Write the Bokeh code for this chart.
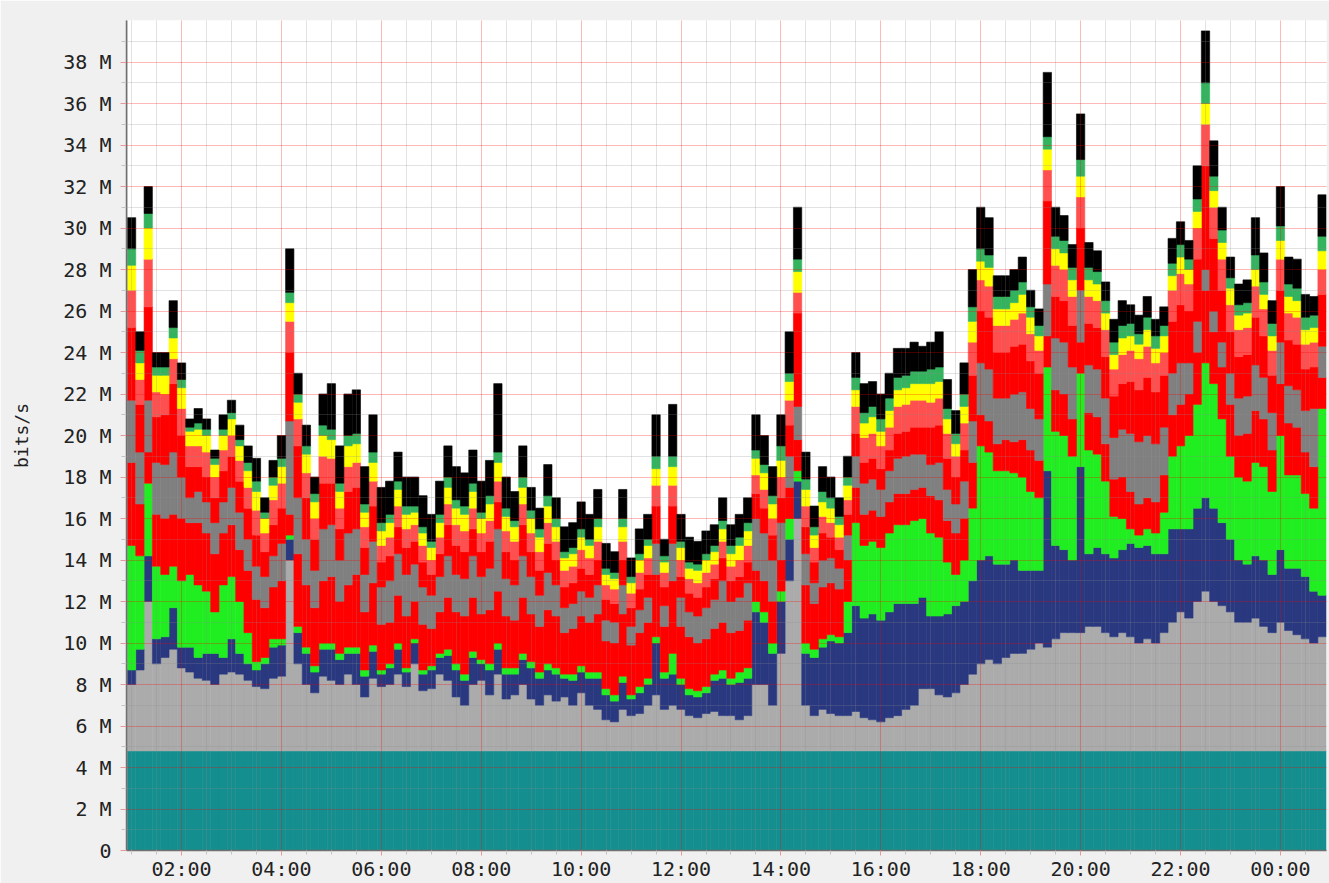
from bokeh.plotting import figure
from bokeh.models import Range1d, FixedTicker, CustomJSTickFormatter, ColumnDataSource, Arrow, NormalHead, Label
from bokeh.embed import file_html
from bokeh.resources import INLINE

# time axis: 10-minute samples starting 00:55 (hours since midnight)
START_HOUR = 55 / 60
STEP_HOURS = 10 / 60

# Series values in Mbit/s, stacked bottom -> top
teal = [4.8, 4.8, 4.8, 4.8, 4.8, 4.8, 4.8, 4.8, 4.8, 4.8, 4.8, 4.8,
        4.8, 4.8, 4.8, 4.8, 4.8, 4.8, 4.8, 4.8, 4.8, 4.8, 4.8, 4.8,
        4.8, 4.8, 4.8, 4.8, 4.8, 4.8, 4.8, 4.8, 4.8, 4.8, 4.8, 4.8,
        4.8, 4.8, 4.8, 4.8, 4.8, 4.8, 4.8, 4.8, 4.8, 4.8, 4.8, 4.8,
        4.8, 4.8, 4.8, 4.8, 4.8, 4.8, 4.8, 4.8, 4.8, 4.8, 4.8, 4.8,
        4.8, 4.8, 4.8, 4.8, 4.8, 4.8, 4.8, 4.8, 4.8, 4.8, 4.8, 4.8,
        4.8, 4.8, 4.8, 4.8, 4.8, 4.8, 4.8, 4.8, 4.8, 4.8, 4.8, 4.8,
        4.8, 4.8, 4.8, 4.8, 4.8, 4.8, 4.8, 4.8, 4.8, 4.8, 4.8, 4.8,
        4.8, 4.8, 4.8, 4.8, 4.8, 4.8, 4.8, 4.8, 4.8, 4.8, 4.8, 4.8,
        4.8, 4.8, 4.8, 4.8, 4.8, 4.8, 4.8, 4.8, 4.8, 4.8, 4.8, 4.8,
        4.8, 4.8, 4.8, 4.8, 4.8, 4.8, 4.8, 4.8, 4.8, 4.8, 4.8, 4.8,
        4.8, 4.8, 4.8, 4.8, 4.8, 4.8, 4.8, 4.8, 4.8, 4.8, 4.8, 4.8]

lgray = [3.2, 3.9, 7.2, 4.2, 4.5, 4.9, 4.0, 3.8, 3.5, 3.4, 3.2, 3.7,
         3.8, 3.7, 3.4, 3.1, 3.0, 3.5, 3.6, 9.2, 4.2, 3.2, 2.8, 3.6,
         3.4, 3.2, 3.7, 3.2, 2.6, 3.5, 3.1, 3.2, 3.7, 3.1, 4.2, 2.9,
         3.0, 3.7, 3.4, 2.6, 2.2, 3.2, 3.4, 2.7, 3.7, 2.5, 2.7, 3.2,
         2.5, 2.2, 2.7, 2.4, 2.6, 2.2, 2.8, 2.2, 2.0, 1.5, 1.4, 2.0,
         1.7, 1.8, 2.2, 2.7, 2.0, 2.2, 2.0, 1.7, 1.6, 1.8, 1.9, 1.7,
         1.7, 1.5, 1.7, 3.2, 3.2, 2.2, 4.7, 8.2, 11.2, 2.2, 1.7, 2.0,
         1.8, 1.7, 1.7, 1.9, 1.6, 1.5, 1.4, 1.6, 1.7, 2.0, 2.2, 3.0,
         3.0, 2.7, 2.6, 2.8, 3.2, 3.7, 4.2, 4.4, 4.2, 4.5, 4.7, 4.7,
         4.9, 5.2, 5.0, 5.4, 5.7, 5.7, 5.7, 6.0, 6.0, 5.7, 5.5, 5.7,
         5.5, 5.2, 5.4, 5.2, 5.7, 6.2, 6.7, 6.4, 7.2, 7.7, 7.2, 7.0,
         6.7, 6.2, 6.2, 6.4, 6.0, 5.7, 6.2, 5.8, 5.6, 5.4, 5.2, 5.5]

navy = [0.7, 1.0, 2.2, 1.2, 1.0, 2.0, 1.0, 1.2, 1.0, 1.3, 1.5, 0.8,
        1.6, 1.0, 0.8, 0.8, 1.2, 1.5, 1.5, 1.0, 1.5, 1.5, 1.0, 1.3,
        1.5, 1.2, 1.0, 1.5, 1.0, 1.3, 0.6, 0.8, 1.2, 0.7, 1.0, 0.8,
        0.9, 0.8, 1.2, 1.3, 1.2, 1.3, 0.8, 1.2, 1.2, 1.2, 1.0, 1.2,
        1.5, 1.3, 1.2, 1.3, 0.9, 1.2, 1.0, 1.3, 1.5, 1.2, 1.0, 1.3,
        0.8, 1.0, 1.0, 2.5, 1.5, 1.5, 1.2, 1.0, 1.0, 1.0, 1.5, 1.8,
        1.5, 1.8, 1.8, 3.5, 3.0, 2.5, 2.5, 2.0, 1.8, 2.5, 2.8, 3.0,
        3.5, 3.5, 4.0, 5.1, 4.8, 5.1, 4.9, 5.1, 5.4, 5.1, 4.9, 4.4,
        3.5, 3.8, 4.0, 4.2, 4.0, 4.5, 5.0, 5.0, 4.8, 4.5, 4.5, 4.0,
        3.8, 3.5, 8.5, 4.5, 4.0, 3.5, 8.0, 3.5, 3.8, 3.8, 3.8, 4.0,
        4.5, 4.6, 4.5, 4.3, 3.8, 4.5, 4.0, 4.3, 4.5, 4.5, 4.5, 4.0,
        3.5, 3.0, 2.8, 3.0, 3.2, 2.8, 3.5, 3.0, 3.2, 3.0, 2.5, 2.0]

green = [6.0, 4.5, 3.5, 3.5, 3.0, 2.0, 3.2, 3.5, 3.5, 3.0, 2.0, 3.5,
         3.0, 2.5, 1.5, 0.4, 0.3, 0.4, 0.3, 0.2, 0.3, 0.3, 0.3, 0.3,
         0.3, 0.3, 0.3, 0.3, 0.3, 0.3, 0.2, 0.2, 0.3, 0.2, 0.2, 0.2,
         0.2, 0.2, 0.3, 0.3, 0.3, 0.3, 0.2, 0.3, 0.3, 0.3, 0.3, 0.3,
         0.3, 0.3, 0.3, 0.3, 0.2, 0.3, 0.3, 0.3, 0.3, 0.3, 0.3, 0.3,
         0.2, 0.3, 0.3, 0.3, 0.3, 1.0, 0.3, 0.3, 0.3, 0.3, 0.3, 0.4,
         0.3, 0.5, 0.5, 0.5, 0.5, 0.5, 0.5, 1.0, 0.5, 0.5, 0.4, 0.4,
         0.3, 0.3, 1.5, 4.0, 3.5, 3.5, 3.5, 3.8, 3.8, 3.8, 4.0, 3.8,
         4.0, 3.8, 2.5, 1.5, 2.0, 3.5, 5.5, 5.0, 4.5, 4.5, 4.2, 4.5,
         3.8, 3.5, 5.0, 5.5, 5.5, 5.0, 4.5, 5.0, 4.5, 3.5, 2.0, 1.5,
         0.7, 0.6, 0.8, 1.0, 2.0, 3.5, 4.0, 4.5, 5.0, 6.5, 6.0, 5.0,
         4.0, 4.0, 4.0, 4.5, 4.5, 4.0, 5.5, 4.5, 4.5, 4.0, 4.0, 9.0]

red_low = [4.0, 2.5, 1.5, 2.5, 2.7, 2.5, 3.0, 2.5, 3.0, 2.8, 2.8, 2.5,
           2.5, 2.5, 3.0, 3.0, 2.4, 2.5, 2.8, 1.0, 3.5, 3.0, 2.8, 3.0,
           3.2, 2.5, 3.0, 3.5, 2.8, 3.0, 2.2, 2.0, 2.3, 2.5, 1.8, 2.2,
           1.8, 2.0, 2.5, 2.5, 2.8, 2.6, 2.2, 2.6, 2.5, 2.5, 2.3, 2.7,
           2.3, 2.2, 2.6, 2.5, 2.0, 2.2, 2.4, 2.4, 2.8, 2.3, 2.5, 3.0,
           2.4, 2.6, 2.7, 3.0, 2.2, 3.5, 2.5, 2.5, 2.3, 2.3, 2.2, 2.3,
           2.2, 2.0, 2.3, 1.5, 1.5, 2.0, 1.5, 1.5, 1.5, 2.8, 2.2, 2.5,
           2.5, 2.3, 2.0, 1.7, 1.5, 1.5, 1.5, 1.5, 1.5, 1.5, 1.5, 1.5,
           1.8, 1.8, 2.0, 2.0, 2.0, 2.2, 1.5, 1.5, 1.3, 1.5, 1.5, 1.8,
           2.0, 1.8, 1.5, 2.0, 2.0, 1.8, 1.5, 1.8, 1.8, 1.8, 1.8, 2.0,
           1.8, 1.5, 1.5, 1.5, 1.8, 2.0, 2.0, 2.0, 2.5, 3.5, 2.5, 2.5,
           2.5, 2.0, 2.3, 2.5, 2.3, 2.0, 2.5, 2.5, 2.3, 2.0, 2.0, 1.5]

gray = [3.0, 2.5, 2.5, 2.5, 2.6, 3.0, 2.0, 1.2, 1.5, 1.5, 1.5, 1.5,
        1.8, 1.8, 1.5, 1.6, 1.5, 1.5, 1.8, 4.5, 2.7, 2.2, 1.8, 2.5,
        2.5, 2.0, 2.5, 2.2, 1.8, 2.0, 1.8, 2.0, 2.0, 2.0, 1.8, 1.8,
        1.6, 1.7, 2.0, 1.8, 1.8, 2.0, 1.8, 2.0, 3.0, 1.8, 1.7, 2.0,
        1.8, 1.5, 1.8, 1.5, 1.2, 1.2, 1.2, 1.2, 1.4, 1.0, 1.0, 1.4,
        0.9, 1.1, 1.2, 1.5, 1.0, 1.8, 1.4, 1.2, 1.3, 1.5, 1.4, 2.0,
        1.5, 1.6, 1.8, 2.5, 2.3, 2.0, 1.8, 1.5, 1.6, 1.5, 1.0, 1.3,
        1.2, 1.0, 1.2, 1.5, 1.5, 1.5, 1.3, 1.5, 1.7, 1.8, 1.7, 1.6,
        1.5, 1.8, 1.5, 1.4, 1.8, 2.0, 2.5, 2.5, 2.2, 2.0, 2.3, 2.3,
        2.0, 2.0, 2.5, 2.5, 2.5, 2.5, 2.5, 2.3, 2.3, 2.2, 2.0, 2.3,
        2.8, 3.0, 3.0, 2.8, 2.3, 2.0, 2.0, 1.5, 1.5, 1.0, 1.0, 1.2,
        1.5, 1.8, 1.8, 2.2, 2.0, 1.8, 2.0, 1.8, 1.8, 2.0, 2.8, 1.5]

red_high = [3.5, 2.3, 4.5, 2.2, 2.4, 3.3, 2.0, 1.5, 1.2, 1.2, 1.2, 1.5,
            1.5, 1.5, 1.5, 1.5, 1.2, 1.5, 1.7, 3.3, 2.5, 2.0, 1.5, 2.2,
            2.0, 1.5, 2.0, 2.0, 1.3, 1.7, 1.2, 1.2, 1.3, 1.3, 1.1, 1.2,
            1.0, 1.1, 1.5, 1.4, 1.3, 1.3, 1.2, 1.3, 1.3, 1.3, 1.2, 1.5,
            1.2, 1.2, 1.4, 1.2, 1.0, 1.0, 1.1, 1.1, 1.2, 1.0, 0.9, 1.2,
            0.9, 1.0, 1.1, 1.8, 0.9, 1.8, 1.0, 0.9, 0.9, 1.0, 1.0, 1.1,
            1.0, 1.0, 1.0, 1.2, 1.2, 1.2, 1.2, 1.5, 4.5, 1.3, 1.0, 1.3,
            1.0, 0.9, 1.0, 1.1, 1.0, 1.0, 1.0, 1.0, 1.2, 1.2, 1.3, 1.3,
            1.8, 1.8, 1.5, 1.3, 1.5, 2.2, 2.5, 2.5, 2.2, 2.2, 2.3, 2.3,
            2.3, 2.2, 4.0, 2.0, 2.0, 2.0, 3.0, 2.0, 2.0, 2.0, 2.0, 2.2,
            2.5, 2.5, 2.8, 2.5, 2.5, 2.5, 2.8, 2.5, 3.0, 5.0, 3.5, 2.5,
            2.0, 2.0, 2.0, 2.3, 2.0, 1.8, 2.5, 2.2, 2.2, 2.0, 2.0, 2.5]

light_red = [1.8, 1.2, 2.3, 1.2, 1.0, 1.2, 1.3, 1.0, 1.0, 1.2, 1.0, 1.0,
             1.0, 1.0, 1.0, 1.2, 0.9, 1.2, 1.2, 1.5, 1.3, 1.2, 1.0, 1.3,
             1.2, 1.0, 1.2, 1.2, 1.0, 1.2, 0.8, 0.9, 1.0, 0.9, 0.8, 0.8,
             0.7, 0.8, 1.0, 1.0, 1.0, 1.0, 0.9, 1.0, 1.0, 1.0, 0.9, 1.0,
             0.9, 0.9, 1.0, 0.9, 0.8, 0.8, 0.9, 0.8, 0.9, 0.7, 0.7, 0.9,
             0.7, 0.8, 0.8, 1.0, 0.7, 1.0, 0.8, 0.7, 0.7, 0.7, 0.7, 0.8,
             0.7, 0.8, 0.8, 0.9, 0.9, 0.8, 1.0, 1.2, 1.0, 1.0, 0.7, 0.8,
             0.7, 0.6, 0.7, 1.3, 1.2, 1.2, 1.1, 1.1, 1.3, 1.3, 1.3, 1.3,
             1.2, 1.3, 1.2, 1.0, 1.3, 1.6, 1.5, 1.5, 1.3, 1.3, 1.3, 1.5,
             1.3, 1.1, 1.5, 1.5, 1.5, 1.4, 1.5, 1.3, 1.3, 1.3, 1.3, 1.4,
             1.5, 1.5, 1.5, 1.4, 1.1, 1.5, 1.5, 1.3, 1.5, 2.0, 1.5, 1.5,
             1.3, 1.3, 1.3, 1.5, 1.3, 1.2, 1.5, 1.3, 1.3, 1.2, 1.2, 1.2]

yellow = [1.2, 0.8, 1.5, 0.8, 0.9, 1.0, 1.0, 0.7, 0.8, 0.8, 0.6, 0.7,
          0.8, 0.7, 0.8, 0.9, 0.7, 0.7, 0.8, 0.9, 0.8, 0.9, 0.8, 1.0,
          0.9, 0.8, 1.0, 0.9, 0.7, 0.9, 0.7, 0.7, 0.8, 0.7, 0.6, 0.6,
          0.6, 0.7, 0.8, 0.8, 0.8, 0.8, 0.7, 0.8, 0.9, 0.7, 0.7, 0.8,
          0.7, 0.7, 0.8, 0.7, 0.6, 0.6, 0.6, 0.6, 0.7, 0.5, 0.5, 0.7,
          0.5, 0.6, 0.6, 0.8, 0.5, 0.9, 0.6, 0.5, 0.6, 0.6, 0.6, 0.6,
          0.6, 0.7, 0.7, 0.8, 0.8, 0.7, 0.8, 0.9, 1.0, 0.8, 0.6, 0.7,
          0.7, 0.6, 0.7, 0.8, 0.7, 0.8, 0.7, 0.8, 0.8, 0.8, 0.8, 0.8,
          0.9, 0.8, 0.7, 0.6, 0.8, 1.0, 0.9, 0.9, 0.8, 0.8, 0.8, 0.9,
          0.8, 0.7, 1.0, 0.8, 0.8, 0.8, 1.0, 0.8, 0.8, 0.8, 0.7, 0.8,
          0.7, 0.7, 0.8, 0.7, 0.8, 0.7, 0.8, 0.7, 0.8, 1.0, 0.8, 0.8,
          0.8, 0.7, 0.7, 0.8, 0.7, 0.7, 0.9, 0.8, 0.8, 0.7, 0.7, 0.9]

sea_green = [0.8, 0.6, 0.7, 0.4, 0.4, 0.5, 0.4, 0.2, 0.3, 0.3, 0.3, 0.3,
             0.3, 0.3, 0.4, 0.5, 0.3, 0.4, 0.4, 0.5, 0.4, 0.4, 0.4, 0.5,
             0.5, 0.4, 0.5, 0.5, 0.4, 0.5, 0.4, 0.4, 0.4, 0.4, 0.3, 0.3,
             0.3, 0.4, 0.5, 0.4, 0.4, 0.4, 0.3, 0.4, 0.5, 0.4, 0.3, 0.5,
             0.4, 0.4, 0.5, 0.4, 0.3, 0.3, 0.4, 0.3, 0.4, 0.3, 0.3, 0.4,
             0.3, 0.3, 0.3, 0.6, 0.3, 0.5, 0.3, 0.3, 0.3, 0.3, 0.3, 0.4,
             0.4, 0.4, 0.4, 0.4, 0.4, 0.4, 0.7, 0.4, 0.6, 0.5, 0.4, 0.5,
             0.5, 0.4, 0.4, 0.6, 0.5, 0.5, 0.6, 0.6, 0.6, 0.6, 0.6, 0.6,
             0.7, 0.7, 0.5, 0.5, 0.6, 0.7, 0.6, 0.6, 0.6, 0.6, 0.6, 0.6,
             0.5, 0.5, 0.6, 0.6, 0.6, 0.6, 0.8, 0.6, 0.6, 0.6, 0.6, 0.6,
             0.6, 0.5, 0.6, 0.6, 0.5, 0.6, 0.6, 0.5, 0.6, 1.0, 0.7, 0.6,
             0.5, 0.5, 0.5, 0.7, 0.6, 0.6, 0.7, 0.6, 0.6, 0.6, 0.6, 0.7]

black = [1.5, 0.9, 1.3, 0.7, 0.7, 1.3, 0.8, 0.4, 0.7, 0.5, 0.4, 0.7,
         0.6, 0.7, 0.8, 1.1, 0.7, 0.8, 1.1, 2.1, 1.0, 1.0, 0.8, 1.5,
         2.2, 1.8, 2.0, 2.1, 1.8, 1.8, 1.7, 1.6, 1.4, 1.4, 1.4, 1.5,
         1.3, 1.6, 1.5, 1.6, 1.6, 1.6, 1.5, 1.7, 3.3, 1.5, 1.4, 1.5,
         1.1, 1.0, 1.5, 1.0, 1.2, 1.2, 1.3, 1.2, 1.4, 1.2, 1.0, 1.4,
         0.9, 1.2, 1.2, 2.0, 0.8, 2.5, 1.3, 1.2, 1.1, 1.1, 1.0, 1.1,
         1.0, 1.1, 1.2, 1.7, 1.4, 1.4, 1.5, 2.0, 2.5, 1.3, 1.0, 1.2,
         1.0, 0.9, 1.0, 1.2, 1.4, 1.2, 1.2, 1.2, 1.4, 1.3, 1.4, 1.2,
         1.3, 1.7, 1.4, 1.1, 1.5, 1.8, 2.0, 1.8, 1.0, 1.0, 1.0, 1.2,
         0.8, 0.8, 3.1, 1.4, 1.2, 1.1, 2.2, 1.2, 1.0, 0.9, 1.1, 1.2,
         0.9, 0.9, 1.0, 0.8, 0.9, 1.2, 1.1, 0.9, 1.6, 2.5, 1.7, 1.1,
         1.0, 1.0, 1.1, 1.8, 1.4, 1.1, 1.9, 1.3, 1.4, 1.1, 0.9, 2.0]

y_ticks = [0, 2, 4, 6, 8, 10, 12, 14, 16, 18, 20, 22, 24, 26, 28, 30, 32, 34, 36, 38]
x_ticks = [2, 4, 6, 8, 10, 12, 14, 16, 18, 20, 22, 24]

names = ["teal", "lgray", "navy", "green", "red_low", "gray", "red_high",
         "light_red", "yellow", "sea_green", "black"]
series = [teal, lgray, navy, green, red_low, gray, red_high,
          light_red, yellow, sea_green, black]
colors = ["#148E8E", "#ABABAB", "#29387F", "#20EE20", "#FF0000", "#808080",
          "#FF0000", "#FF4F4F", "#FFFF00", "#33B35E", "#000000"]

n = len(teal)
t = [START_HOUR + STEP_HOURS * (i + 0.5) for i in range(n)]
data = {"t": t}
for nm, s in zip(names, series):
    data[nm] = s
src = ColumnDataSource(data)

X0 = 53.9 / 60
PX_PER_HOUR = 49.95
FRAME_W = 1200

p = figure(width=1329, height=883, output_backend="svg", toolbar_location=None,
           x_range=Range1d(X0, X0 + FRAME_W / PX_PER_HOUR), y_range=Range1d(0, 40),
           min_border_left=126, min_border_right=3, min_border_top=20,
           min_border_bottom=31)
p.background_fill_color = "white"
p.border_fill_color = "#F0F0F0"
p.outline_line_color = None

p.vbar_stack(names, x="t", width=STEP_HOURS, color=colors, source=src, line_width=0.6)

# axes
font = "DejaVu Sans Mono"
p.yaxis.ticker = FixedTicker(ticks=y_ticks, minor_ticks=[v + 1 for v in y_ticks])
p.yaxis.formatter = CustomJSTickFormatter(code="return tick == 0 ? '0' : tick + ' M';")
minor_x = [h / 2 for h in range(2, 50) if h % 4 != 0]
p.xaxis.ticker = FixedTicker(ticks=x_ticks, minor_ticks=minor_x)
p.xaxis.formatter = CustomJSTickFormatter(
    code="const h = Math.round(tick) % 24; return (h < 10 ? '0' : '') + h + ':00';")

for ax in (p.xaxis, p.yaxis):
    ax.axis_line_color = "#707070"
    ax.axis_line_width = 1.5
    ax.major_tick_line_color = "#E89A9A"
    ax.minor_tick_line_color = "#C4C4C4"
    ax.major_tick_in = 0
    ax.minor_tick_in = 0
    ax.major_tick_out = 6
    ax.minor_tick_out = 5
    ax.major_label_text_font = font
    ax.major_label_text_font_size = "20px"
    ax.major_label_text_color = "#222222"

p.xaxis.major_tick_out = 5
p.xaxis.minor_tick_out = 4
p.yaxis.major_label_standoff = 9
p.xaxis.major_label_standoff = 1
p.yaxis.axis_label = "bits/s"
p.yaxis.axis_label_text_font = font
p.yaxis.axis_label_text_font_size = "18px"
p.yaxis.axis_label_text_font_style = "normal"
p.yaxis.axis_label_text_color = "#222222"
p.yaxis.axis_label_standoff = 28

# grid drawn over the areas, like rrdtool
for g in (p.xgrid, p.ygrid):
    g.grid_line_color = "#FF0000"
    g.grid_line_alpha = 0.28
    g.minor_grid_line_color = "#8C8C8C"
    g.minor_grid_line_alpha = 0.25
    g.level = "overlay"

p.add_layout(Arrow(end=None, x_start=X0, y_start=0, x_end=X0, y_end=40.3,
                   line_color="#707070", line_width=1.5))
p.add_layout(Label(x=X0, y=40.35, text="\u25b2", text_align="center",
                   text_baseline="middle", text_color="#8B1E1E",
                   text_font_size="11px"))

open("out.html", "w").write(file_html(p, INLINE))
